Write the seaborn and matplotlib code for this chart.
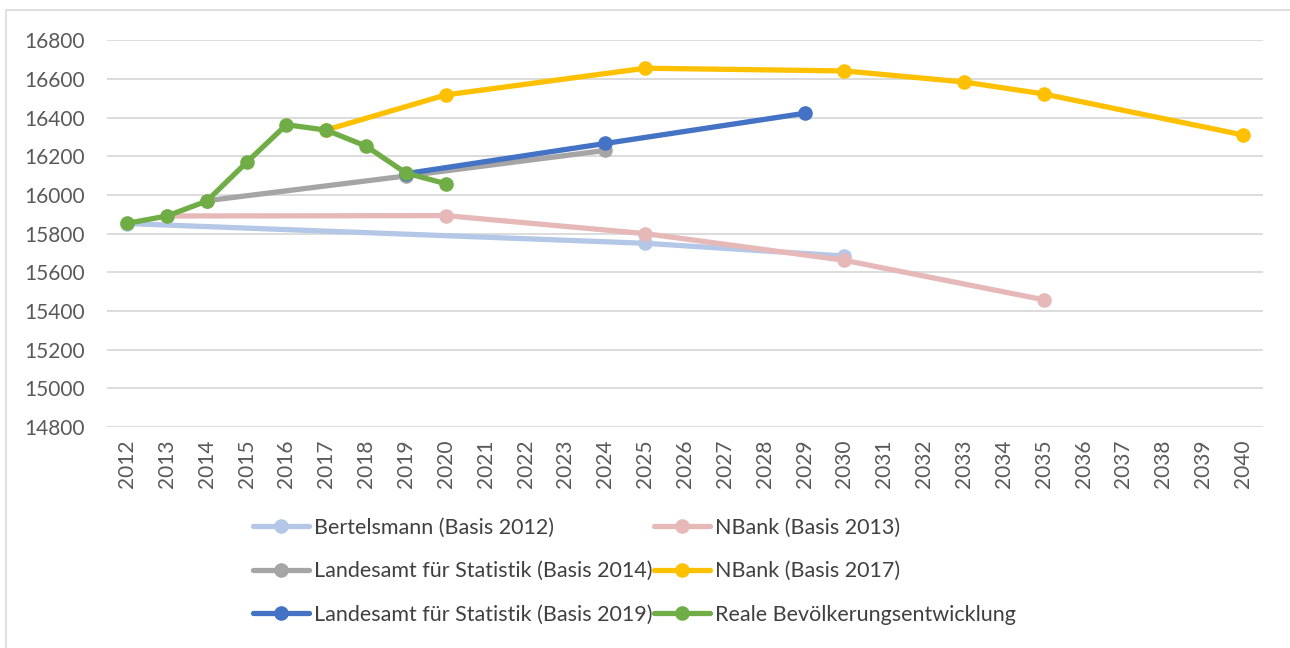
import pandas as pd
import matplotlib
matplotlib.use("Agg")
import matplotlib.pyplot as plt
import seaborn as sns
from matplotlib.patches import Rectangle

sns.set_style("white")
plt.rcParams["font.family"] = ["Lato", "DejaVu Sans"]

years = list(range(2012, 2041))

bert_years = [2012, 2025, 2030]
bert_vals = [15852, 15750, 15684]

nb13_years = [2013, 2020, 2025, 2030, 2035]
nb13_vals = [15891, 15893, 15800, 15662, 15458]

ls14_years = [2014, 2019, 2024]
ls14_vals = [15970, 16098, 16230]

nb17_years = [2017, 2020, 2025, 2030, 2033, 2035, 2040]
nb17_vals = [16336, 16517, 16655, 16641, 16584, 16522, 16310]

ls19_years = [2019, 2024, 2029]
ls19_vals = [16110, 16266, 16422]

real_years = [2012, 2013, 2014, 2015, 2016, 2017, 2018, 2019, 2020]
real_vals = [15853, 15891, 15968, 16168, 16363, 16335, 16252, 16113, 16058]

series = [
    ("Bertelsmann (Basis 2012)", bert_years, bert_vals, "#B4C7E7"),
    ("NBank (Basis 2013)", nb13_years, nb13_vals, "#E6B9B8"),
    ("Landesamt für Statistik (Basis 2014)", ls14_years, ls14_vals, "#A5A5A5"),
    ("NBank (Basis 2017)", nb17_years, nb17_vals, "#FFC000"),
    ("Landesamt für Statistik (Basis 2019)", ls19_years, ls19_vals, "#4472C4"),
    ("Reale Bevölkerungsentwicklung", real_years, real_vals, "#70AD47"),
]

fig = plt.figure(figsize=(12.9, 6.48), dpi=100)
ax = fig.add_axes([0.083, 0.341, 0.896, 0.597])

for i, (name, xs, ys, col) in enumerate(series):
    df = pd.DataFrame({"Jahr": xs, "Einwohner": ys})
    sns.lineplot(data=df, x="Jahr", y="Einwohner", ax=ax, color=col, lw=3.8,
                 marker="o", markersize=10.5, markeredgewidth=0, label=name,
                 zorder=3 + i)

h, l = ax.get_legend_handles_labels()
ax.get_legend().remove()
order = [0, 2, 4, 1, 3, 5]
fig.legend([h[k] for k in order], [l[k] for k in order], ncol=2,
           loc="lower left", bbox_to_anchor=(0.181, 0.006), frameon=False,
           fontsize=15.5, labelcolor="#404040", handlelength=2.6,
           handletextpad=0.25, columnspacing=0.05, labelspacing=1.1)

ax.set_xlim(2011.5, 2040.5)
ax.set_ylim(14800, 16800)
ax.set_xticks(years)
ax.set_xticklabels([str(y) for y in years], rotation=90)
ax.set_yticks(range(14800, 16801, 200))
ax.tick_params(axis="both", length=0, labelsize=15, labelcolor="#595959")
ax.tick_params(axis="y", pad=16)
ax.tick_params(axis="x", pad=9)
ax.yaxis.grid(True, color="#D9D9D9", lw=1.3)
ax.set_axisbelow(True)
for s in ax.spines.values():
    s.set_visible(False)
ax.set_xlabel("")
ax.set_ylabel("")

fig.patches.append(Rectangle((0.005, -0.01), 1.1, 0.995, transform=fig.transFigure,
                             fill=False, edgecolor="#D9D9D9", lw=1.2))

fig.savefig("out.png", dpi=100)
